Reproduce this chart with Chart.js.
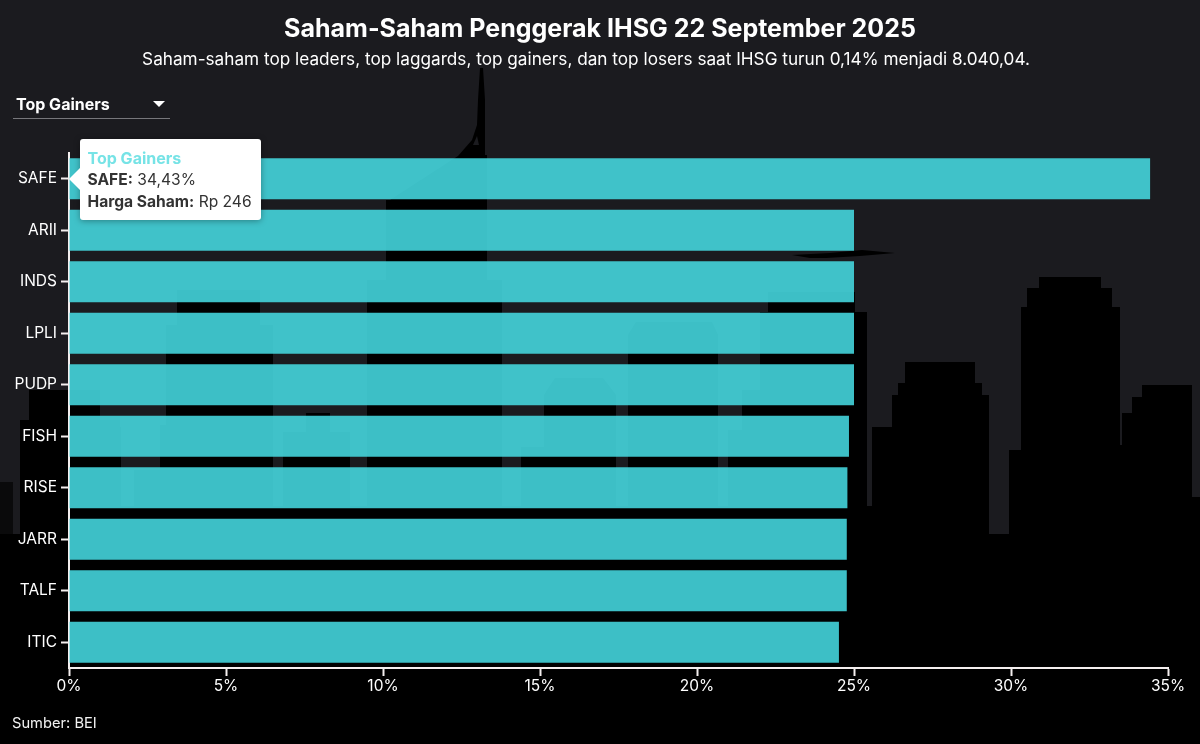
<!DOCTYPE html>
<html>
<head>
<meta charset="utf-8">
<title>Saham-Saham Penggerak IHSG</title>
<script src="https://cdn.jsdelivr.net/npm/chart.js@4"></script>
<style>
  html, body { margin: 0; padding: 0; background: #1b1b1f; }
  body { width: 1200px; height: 744px; position: relative; overflow: hidden; font-family: Inter, sans-serif; color: #fff; }
  #skyline { position: absolute; left: 0; top: 0; }
  #chart { position: absolute; left: 0; top: 0; }
  #dropdown { position: absolute; left: 13px; top: 90px; width: 157px; height: 28px; border-bottom: 1px solid #77777b; font-size: 16px; font-weight: 700; line-height: 28px; }
  #dropdown span { margin-left: 3px; }
  #dropdown i { position: absolute; left: 140px; top: 11px; border-left: 6px solid transparent; border-right: 6px solid transparent; border-top: 6px solid #fff; }
  #source { position: absolute; left: 12px; top: 714px; font-size: 14.7px; color: #f2f2f2; }
  #tip { position: absolute; width: 181px; height: 81px; background: #fff; border-radius: 3px; box-shadow: 0 1px 6px rgba(0,0,0,.35); color: #333; font-size: 15.6px; line-height: 22px; box-sizing: border-box; padding: 8px 0 0 8px; white-space: nowrap; }
  #tip:before { content: ""; position: absolute; left: -11px; top: 29px; border-top: 11px solid transparent; border-bottom: 11px solid transparent; border-right: 11px solid #fff; }
  #tip .head { color: #76e3e6; font-weight: 700; font-size: 16px; }
</style>
</head>
<body>
<svg id="skyline" width="1200" height="744" fill="#000">
  <!-- tower with spire -->
  <polygon points="480,68 483,68 485,100 485,155 487,155 487,280 502,280 502,510 367,510 367,280 386,280 386,200 390,200 458,156 472,140 477,125 478,100"/>
  <polygon points="473,145 477,136 479,145" fill="#1b1b1f"/>
  <!-- crane -->
  <polygon points="792,255 830,253 862,250 895,253 860,256 826,258 810,258"/>
  <!-- left blocks -->
  <rect x="29" y="390" width="71" height="144"/>
  <rect x="20" y="420" width="100" height="114"/>
  <rect x="20" y="427" width="101" height="107"/>
  <rect x="0" y="482" width="13" height="52" fill="#0a0a0b"/>
  <rect x="134" y="470" width="26" height="64"/>
  <rect x="177" y="290" width="83" height="244"/>
  <rect x="166" y="325" width="107" height="209"/>
  <rect x="160" y="425" width="113" height="109"/>
  <rect x="306" y="413" width="24" height="30"/>
  <rect x="283" y="432" width="67" height="102"/>
  <!-- middle blocks -->
  <polygon points="555,378 603,378 616,395 616,510 521,510 521,447 544,447 544,395"/>
  <polygon points="636,322 712,322 718,335 718,510 628,510 628,335"/>
  <rect x="728" y="430" width="14" height="104"/>
  <rect x="742" y="390" width="18" height="144"/>
  <rect x="760" y="312" width="107" height="222"/>
  <rect x="768" y="292" width="87" height="30"/>
  <rect x="70" y="506" width="802" height="30"/>
  <!-- right blocks -->
  <rect x="872" y="427" width="20" height="107"/>
  <polygon points="905,362 975,362 975,383 982,383 982,395 989,395 989,534 892,534 892,395 898,395 898,383 905,383"/>
  <rect x="1009" y="450" width="12" height="84"/>
  <polygon points="1039,277 1101,277 1101,288 1112,288 1112,307 1120,307 1120,534 1021,534 1021,307 1027,307 1027,288 1039,288"/>
  <rect x="1120" y="445" width="2" height="89"/>
  <polygon points="1142,385 1192,385 1192,534 1122,534 1122,413 1132,413 1132,397 1142,397"/>
  <rect x="1192" y="497" width="8" height="37"/>
  <rect x="0" y="534" width="1200" height="210"/>
</svg>
<canvas id="chart" width="1200" height="744"></canvas>
<div id="dropdown"><span>Top Gainers</span><i></i></div>
<div id="source">Sumber: BEI</div>
<script>
const categories = ['SAFE', 'ARII', 'INDS', 'LPLI', 'PUDP', 'FISH', 'RISE', 'JARR', 'TALF', 'ITIC'];
const gainValues = [34.43, 25.0, 25.0, 25.0, 25.0, 24.84, 24.79, 24.77, 24.77, 24.52];
const hargaSaham = { SAFE: 246 };
const seriesName = 'Top Gainers';
const xTicks = [0, 5, 10, 15, 20, 25, 30, 35];
const titleText = 'Saham-Saham Penggerak IHSG 22 September 2025';
const subtitleText = 'Saham-saham top leaders, top laggards, top gainers, dan top losers saat IHSG turun 0,14% menjadi 8.040,04.';

const FONT = 'Inter, sans-serif';

function formatPercent(v) {
  return v.toFixed(2).replace('.', ',') + '%';
}

// tooltip sits at the start of the bar, not at the end
Chart.Tooltip.positioners.barBase = function(items) {
  if (!items.length) return false;
  return { x: items[0].element.base, y: items[0].element.y };
};

function drawTip(context) {
  const tooltip = context.tooltip;
  let tip = document.getElementById('tip');
  if (!tip) {
    tip = document.createElement('div');
    tip.id = 'tip';
    document.body.appendChild(tip);
  }
  if (tooltip.opacity === 0 || !tooltip.dataPoints) {
    tip.style.display = 'none';
    return;
  }
  const point = tooltip.dataPoints[0];
  tip.style.display = 'block';
  tip.style.left = (tooltip.caretX + 10) + 'px';
  tip.style.top = (tooltip.caretY - 40) + 'px';
  tip.innerHTML = '<div class="head">' + tooltip.title[0] + '</div>'
    + '<div><b>' + point.label + ':</b> ' + formatPercent(point.raw) + '</div>'
    + '<div><b>Harga Saham:</b> Rp ' + hargaSaham[point.label] + '</div>';
}

// the title is centred on the page, the subtitle sits a little left of that
const placeTitles = {
  id: 'placeTitles',
  afterLayout: function(c) {
    c.boxes.forEach(b => {
      if (b.axis || !b.options || !b.options.text) return;
      b.left = 0;
      b.right = b.options.text === titleText ? c.width : c.width - 28;
    });
  }
};

const chart = new Chart(document.getElementById('chart'), {
  type: 'bar',
  plugins: [placeTitles],
  data: {
    labels: categories,
    datasets: [{
      label: seriesName,
      data: gainValues,
      backgroundColor: 'rgba(70,218,225,0.88)',
      hoverBackgroundColor: 'rgba(70,218,225,0.88)',
      borderWidth: 0,
      barPercentage: 0.8,
      categoryPercentage: 1
    }]
  },
  options: {
    indexAxis: 'y',
    responsive: false,
    animation: false,
    events: [],
    layout: { padding: { right: 32 } },
    scales: {
      x: {
        min: 0,
        max: 35,
        afterBuildTicks: function(axis) { axis.ticks = xTicks.map(v => ({ value: v })); },
        afterFit: function(axis) { axis.height = 76; },
        border: { color: '#f4efef', width: 2 },
        grid: { drawOnChartArea: false, color: '#f4efef', tickLength: 8, tickWidth: 2 },
        ticks: { color: '#fff', font: { family: FONT, size: 15.5 }, padding: 1, maxRotation: 0, callback: v => v + '%' }
      },
      y: {
        afterFit: function(axis) { axis.width = 69; },
        border: { color: '#f4efef', width: 2 },
        grid: { offset: false, drawOnChartArea: false, color: '#f4efef', tickLength: 8, tickWidth: 2 },
        ticks: { color: '#fff', font: { family: FONT, size: 15.5 }, padding: 4 }
      }
    },
    plugins: {
      legend: { display: false },
      title: {
        display: true,
        text: titleText,
        color: '#fff',
        font: { family: FONT, size: 25, weight: '700' },
        padding: { top: 14, bottom: 0 }
      },
      subtitle: {
        display: true,
        text: subtitleText,
        color: '#fff',
        font: { family: FONT, size: 17.2, weight: '400' },
        padding: { top: 6, bottom: 82.36 }
      },
      tooltip: {
        enabled: false,
        position: 'barBase',
        external: drawTip,
        callbacks: { title: () => seriesName }
      }
    }
  }
});

chart.tooltip.setActiveElements([{ datasetIndex: 0, index: 0 }], { x: 0, y: 0 });
chart.render();
</script>
</body>
</html>
